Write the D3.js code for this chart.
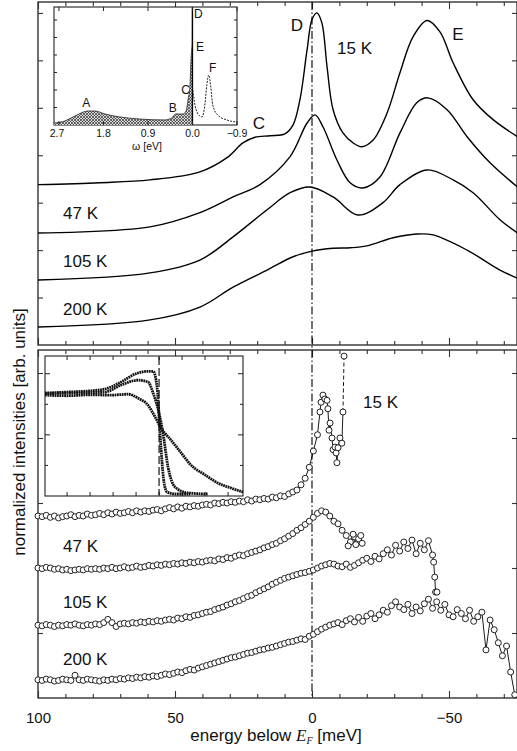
<!DOCTYPE html>
<html><head><meta charset="utf-8">
<script src="https://cdn.jsdelivr.net/npm/d3@7"></script>
<style>
body{margin:0;background:#fff}
text{font-family:"Liberation Sans",Arial,Helvetica,sans-serif;fill:#111}
</style>
</head><body>
<svg id="c" width="517" height="751"></svg>
<script>
// ---------------- DATA ----------------
const xMajorTicks = [100, 50, 0, -50];
const xTickLabels = ["100", "50", "0", "\u221250"];
const xMinorTicks = [90, 80, 70, 60, 40, 30, 20, 10, -10, -20, -30, -40, -60, -70];
const topYTicks = [1, 2, 3, 4, 5, 6, 7];
const botYTicks = [1, 2, 3, 4, 5];
const tempLabels = ["15 K", "47 K", "105 K", "200 K"];

// top panel: calculated spectra [energy meV, intensity]
const top15 = [[100,3.38],[77.4,3.42],[59.1,3.48],[40.9,3.65],[31,3.95],[25.2,4.26],[20.8,4.38],[15.3,4.41],[9.9,4.45],[6.9,4.64],[4.4,5.17],[1.8,6.22],[0,6.86],[-1.8,7.0],[-3.6,6.79],[-5.5,5.86],[-7.7,4.96],[-11.3,4.47],[-15,4.26],[-18.2,4.18],[-22.3,4.32],[-27.4,4.89],[-32.1,5.74],[-36.9,6.50],[-42,6.84],[-46.7,6.60],[-51.5,5.95],[-58.8,5.17],[-66.1,4.75],[-75,4.39]];
const top47 = [[100,2.36],[59.1,2.49],[40.9,2.79],[28.8,3.12],[19,3.38],[8,3.97],[1.8,4.68],[-1.1,4.85],[-4,4.60],[-9.1,3.90],[-13.9,3.42],[-18.6,3.31],[-24.8,3.54],[-32.1,4.47],[-38.3,5.11],[-42.3,5.21],[-49.3,4.96],[-56.6,4.39],[-65,3.84],[-75,3.33]];
const top105 = [[100,1.37],[59.1,1.52],[40.9,1.79],[28.8,2.28],[16.4,2.85],[8,3.21],[0.7,3.33],[-7.7,3.12],[-16.8,2.74],[-25.9,3.0],[-32.1,3.38],[-42,3.69],[-51.5,3.48],[-58.8,3.21],[-68.6,2.64],[-75,2.36]];
const top200 = [[100,0.38],[59.1,0.53],[40.9,0.80],[28.8,1.22],[16.4,1.58],[6.9,1.86],[0,1.98],[-7.7,2.04],[-14,2.05],[-20,2.09],[-29.6,2.26],[-38.3,2.34],[-44.2,2.32],[-56.6,2.0],[-68.6,1.58],[-75,1.41]];

// top inset: spectral function, omega [eV] vs intensity
const insetTicksOmega = [2.7, 1.8, 0.9, 0.0, -0.9];
const insetTickLabels = ["2.7", "1.8", "0.9", "0.0", "\u22120.9"];
const insetOcc = [[2.80,0.11],[2.58,0.23],[2.38,0.51],[2.11,0.80],[1.97,0.80],[1.77,0.63],[1.47,0.46],[1.06,0.34],[0.56,0.29],[0.42,0.40],[0.34,0.63],[0.19,0.63],[0.13,0.80],[0.09,1.43],[0.05,2.29],[0.03,3.71],[0.015,4.34],[0.007,4.6],[0.003,6.74],[0,6.74]];
const insetUnocc = [[0,2.17],[-0.05,1.14],[-0.09,0.74],[-0.19,0.46],[-0.25,1.14],[-0.29,2.29],[-0.33,2.86],[-0.37,2.17],[-0.41,1.14],[-0.51,0.57],[-0.69,0.29],[-0.90,0.17]];
const insetPeakLabels = ["A", "B", "C", "D", "E", "F"];

// bottom panel: measured spectra on a 1.5 meV grid starting at 100 meV
const botStart = 100, botStep = 1.5;
const bot15 = [2.80,2.79,2.81,2.78,2.80,2.77,2.79,2.80,2.82,2.79,2.81,2.80,2.83,2.81,
 2.82,2.84,2.82,2.85,2.83,2.86,2.84,2.85,2.87,2.85,2.88,2.86,2.88,2.87,
 2.89,2.90,2.88,2.91,2.93,2.91,2.94,2.92,2.95,2.94,2.96,2.95,2.97,
 2.98,2.97,3.00,2.99,3.01,3.00,3.02,3.01,3.03,3.02,3.05,3.03,3.06,
 3.05,3.07,3.06,3.09,3.08,3.11,3.10,3.14,
 3.17,3.20,3.28,3.38,3.55,3.80,4.05,4.30];
const bot15Tail = [[-2.9,4.40],[-3.3,4.55],[-4.0,4.66],[-4.7,4.60],[-5.5,4.58],[-5.8,4.45],[-6.2,4.12],[-6.6,4.23],[-7.3,4.0],[-7.7,3.82],[-8.4,3.86],[-8.8,3.77],[-9.1,3.62],[-9.5,3.85],[-10.2,4.0],[-10.9,3.92],[-11.3,4.40]];
const bot15Last = [-11.7, 5.26];
const bot47 = [2.00,1.99,2.01,2.00,1.98,1.99,1.97,1.98,1.96,1.97,1.98,1.97,1.99,1.98,
 1.99,1.98,2.00,1.99,2.01,1.99,2.00,2.02,2.00,2.01,2.03,2.01,2.02,2.04,
 2.03,2.05,2.04,2.06,2.05,2.07,2.06,2.08,2.07,2.09,2.08,2.10,2.09,
 2.11,2.12,2.11,2.14,2.13,2.16,2.15,2.18,2.20,2.19,2.22,2.24,2.26,
 2.28,2.31,2.33,2.36,2.38,2.42,2.45,2.49,
 2.53,2.58,2.62,2.67,2.72,2.78,2.84,2.88,
 2.86,2.80,2.72,2.68,2.58,2.50,2.40,2.48,2.45];
const bot47Tail = [[-13.2,2.34],[-15,2.52],[-16,2.36],[-17.8,2.50],[-18.3,2.38]];
const bot105 = [1.12,1.11,1.13,1.12,1.10,1.12,1.11,1.13,1.12,1.14,1.12,1.11,1.13,1.12,
 1.14,1.13,1.16,1.21,1.16,1.10,1.14,1.15,1.14,1.16,1.15,1.17,1.16,1.18,
 1.17,1.19,1.18,1.20,1.21,1.20,1.23,1.22,1.25,1.24,1.27,1.28,1.30,
 1.32,1.33,1.36,1.38,1.40,1.43,1.45,1.48,1.50,1.53,1.56,1.58,1.62,
 1.65,1.68,1.71,1.75,1.78,1.81,1.84,1.86,
 1.88,1.90,1.92,1.93,1.95,1.97,2.00,2.03,
 2.05,2.07,2.06,2.03,2.02,2.06,2.01,2.04,
 2.08,2.12,2.15,2.10,2.18,2.14,2.22,2.28,
 2.20,2.35,2.26,2.40,2.30,2.43,2.22,2.38,2.28,2.42,2.20];
const bot105Tail = [[-44.4,2.09],[-44.8,1.86],[-45.1,1.63],[-45.6,1.63]];
const bot200 = [0.28,0.27,0.29,0.28,0.26,0.27,0.29,0.28,0.27,0.35,0.28,0.27,0.29,0.28,
 0.27,0.26,0.28,0.27,0.29,0.28,0.30,0.29,0.31,0.30,0.32,0.31,0.33,0.32,
 0.34,0.33,0.35,0.37,0.36,0.38,0.40,0.39,0.42,0.44,0.43,0.46,0.48,
 0.50,0.52,0.54,0.56,0.58,0.60,0.62,0.63,0.65,0.67,0.69,0.70,0.72,
 0.74,0.75,0.77,0.78,0.80,0.82,0.84,0.86,
 0.87,0.89,0.91,0.90,0.95,0.98,1.02,1.06,
 1.09,1.12,1.14,1.16,1.13,1.19,1.22,1.17,
 1.24,1.18,1.26,1.30,1.22,1.28,1.35,1.32,
 1.42,1.48,1.40,1.36,1.44,1.30,1.40,1.34,
 1.45,1.52,1.38,1.48,1.35,1.44,1.28,1.25,
 1.36,1.30,1.22,1.35,1.18,1.25,1.32,0.74,
 1.20,1.05,0.85,0.65,0.80,0.40,0.05];

// bottom inset: three Fermi-edge spectra [energy, intensity]
const insetXTicks = [40, 30, 20, 10, 0, -10, -20, -30];
const insetYTicks = [1, 2, 3, 4];
const edgeA = [[49.6,3.37],[40,3.40],[30,3.44],[23.5,3.50],[16.5,3.73],[10.4,3.99],[4.8,4.08],[2.6,4.08],[1.3,3.79],[0.4,3.14],[0,2.58],[-0.9,1.50],[-2.2,0.42],[-3.5,0.13],[-7,0.065],[-13.5,0.065]];
const edgeB = [[49.6,3.35],[40,3.37],[30,3.38],[23.5,3.40],[16.5,3.63],[9.1,3.79],[4.8,3.73],[2.6,3.37],[0,2.71],[-1.7,2.06],[-3.9,0.95],[-7,0.29],[-12.6,0.1],[-21.3,0.065]];
const edgeC = [[49.6,3.30],[40,3.28],[30,3.31],[20.9,3.30],[13.5,3.33],[9.1,3.20],[4.8,2.97],[1.7,2.58],[-0.9,2.22],[-5.2,1.83],[-9.6,1.41],[-13.9,1.01],[-20,0.69],[-25.7,0.42],[-31.3,0.26],[-36.5,0.13]];

// ---------------- DRAW ----------------
const svg = d3.select("#c");
const L = 38, R = 517, T1 = 2, B1 = 345, T2 = 350, B2 = 698;
const x = d3.scaleLinear().domain([100, -75]).range([L, 517.5]);
const yT = d3.scaleLinear().domain([0, 7.23]).range([B1, T1]);
const yB = d3.scaleLinear().domain([0, 5.354]).range([B2, T2]);
const frameCol = "#333";

const defs = svg.append("defs");
const pat = defs.append("pattern").attr("id","hatch").attr("patternUnits","userSpaceOnUse").attr("width",3).attr("height",3);
pat.append("rect").attr("width",3).attr("height",3).attr("fill","#d8d8d8");
pat.append("path").attr("d","M0,3 L3,0 M0,0 L3,3").attr("stroke","#333").attr("stroke-width",0.7);

function xTicks(y, dir) {
  const g = svg.append("g").attr("transform", `translate(0,${y})`);
  const axMaj = (dir > 0 ? d3.axisBottom(x) : d3.axisTop(x)).tickValues(xMajorTicks).tickSize(7).tickFormat("");
  const axMin = (dir > 0 ? d3.axisBottom(x) : d3.axisTop(x)).tickValues(xMinorTicks).tickSize(4).tickFormat("");
  g.append("g").call(axMaj);
  g.append("g").call(axMin);
  g.selectAll(".domain").remove();
  g.selectAll("line").attr("stroke", frameCol).attr("stroke-width", 1.1);
}
function yTicks(scale, vals) {
  const gl = svg.append("g").attr("transform", `translate(${L},0)`).call(d3.axisRight(scale).tickValues(vals).tickSize(5).tickFormat(""));
  const gr = svg.append("g").attr("transform", `translate(${R},0)`).call(d3.axisLeft(scale).tickValues(vals).tickSize(5).tickFormat(""));
  [gl, gr].forEach(g => { g.select(".domain").remove(); g.selectAll("line").attr("stroke", frameCol).attr("stroke-width", 1.1); });
}

// frames
svg.append("rect").attr("x",L).attr("y",T1).attr("width",R-L).attr("height",B1-T1).attr("fill","none").attr("stroke",frameCol).attr("stroke-width",1.4);
svg.append("rect").attr("x",L).attr("y",T2).attr("width",R-L).attr("height",B2-T2).attr("fill","none").attr("stroke",frameCol).attr("stroke-width",1.4);
xTicks(T1, 1); xTicks(B1, -1); xTicks(T2, 1); xTicks(B2, -1);
yTicks(yT, topYTicks); yTicks(yB, botYTicks);

// bottom tick labels
const gl = svg.append("g").attr("transform", `translate(0,${B2})`)
  .call(d3.axisBottom(x).tickValues(xMajorTicks).tickSize(0).tickPadding(14).tickFormat((d,i) => xTickLabels[i]));
gl.select(".domain").remove();
gl.selectAll("text").attr("font-size", 15).attr("fill", "#111").attr("font-family", '"Liberation Sans",Arial,sans-serif');

// Fermi level dash-dot line
svg.append("line").attr("x1",x(0)).attr("x2",x(0)).attr("y1",T1).attr("y2",B2)
  .attr("stroke","#000").attr("stroke-width",1.1).attr("stroke-dasharray","8,2.5,1.5,2.5");

// top panel curves
const lineT = d3.line().x(d => x(d[0])).y(d => yT(d[1])).curve(d3.curveCatmullRom.alpha(0.5));
[top15, top47, top105, top200].forEach(s => {
  svg.append("path").attr("d", lineT(s)).attr("fill","none").attr("stroke","#000").attr("stroke-width",1.4);
});

// top inset
const xi = d3.scaleLinear().domain([2.8, -0.9]).range([54, 237]);
const yi = d3.scaleLinear().domain([0, 6.74]).range([125, 7]);
svg.append("rect").attr("x",54).attr("y",7).attr("width",183).attr("height",118).attr("fill","#fff").attr("stroke","#222").attr("stroke-width",1.1);
const areaI = d3.area().x(d => xi(d[0])).y0(yi(0)).y1(d => yi(d[1])).curve(d3.curveMonotoneX);
svg.append("path").attr("d", areaI(insetOcc)).attr("fill","url(#hatch)").attr("stroke","none");
svg.append("path").attr("d", d3.line().x(d => xi(d[0])).y(d => yi(d[1])).curve(d3.curveMonotoneX)(insetOcc))
  .attr("fill","none").attr("stroke","#222").attr("stroke-width",0.8);
svg.append("line").attr("x1",xi(0)).attr("x2",xi(0)).attr("y1",yi(0)).attr("y2",yi(6.74)).attr("stroke","#000").attr("stroke-width",1.3);
svg.append("path").attr("d", d3.line().x(d => xi(d[0])).y(d => yi(d[1])).curve(d3.curveMonotoneX)(insetUnocc))
  .attr("fill","none").attr("stroke","#222").attr("stroke-width",1).attr("stroke-dasharray","2,1.2");
const giT = svg.append("g");
insetTicksOmega.forEach(v => {
  giT.append("line").attr("x1",xi(v)).attr("x2",xi(v)).attr("y1",125).attr("y2",121).attr("stroke","#222");
  giT.append("line").attr("x1",xi(v)).attr("x2",xi(v)).attr("y1",7).attr("y2",11).attr("stroke","#222");
});
[1,2,3,4,5,6].forEach(v => {
  giT.append("line").attr("x1",54).attr("x2",57).attr("y1",yi(v)).attr("y2",yi(v)).attr("stroke","#222");
  giT.append("line").attr("x1",237).attr("x2",234).attr("y1",yi(v)).attr("y2",yi(v)).attr("stroke","#222");
});
insetTicksOmega.forEach((v,i) => {
  svg.append("text").attr("x", i === 0 ? xi(v) - 2 : xi(v)).attr("y",137).attr("text-anchor","middle").attr("font-size",10.5).text(insetTickLabels[i]);
});
svg.append("text").attr("x",147).attr("y",150).attr("text-anchor","middle").attr("font-size",10.5).text("\u03c9 [eV]");
const insetLabelPos = [[2.15,1.05],[0.4,0.75],[0.14,1.75],[-0.12,6.1],[-0.15,4.2],[-0.41,3.0]];
insetPeakLabels.forEach((t,i) => {
  svg.append("text").attr("x",xi(insetLabelPos[i][0])).attr("y",yi(insetLabelPos[i][1])).attr("text-anchor","middle").attr("font-size",12).text(t);
});

// top panel labels
svg.append("text").attr("x",297).attr("y",31).attr("text-anchor","middle").attr("font-size",17).text("D");
svg.append("text").attr("x",458).attr("y",40).attr("text-anchor","middle").attr("font-size",17).text("E");
svg.append("text").attr("x",259).attr("y",129).attr("text-anchor","middle").attr("font-size",17).text("C");
svg.append("text").attr("x",337).attr("y",54).attr("font-size",17).text(tempLabels[0]);
[[219,1],[267,2],[315,3]].forEach(([yy,i]) => svg.append("text").attr("x",63).attr("y",yy).attr("font-size",17).text(tempLabels[i]));

// bottom inset
const xb = d3.scaleLinear().domain([49.6, -36.5]).range([45, 243]);
const yb = d3.scaleLinear().domain([0, 4.58]).range([496, 356]);
svg.append("rect").attr("x",45).attr("y",356).attr("width",198).attr("height",140).attr("fill","#fff").attr("stroke","#222").attr("stroke-width",1.1);
const gbi = svg.append("g");
insetXTicks.forEach(v => {
  gbi.append("line").attr("x1",xb(v)).attr("x2",xb(v)).attr("y1",356).attr("y2",360).attr("stroke","#222");
  gbi.append("line").attr("x1",xb(v)).attr("x2",xb(v)).attr("y1",496).attr("y2",492).attr("stroke","#222");
});
insetYTicks.forEach(v => {
  const len = v % 2 === 0 ? 5 : 3;
  gbi.append("line").attr("x1",45).attr("x2",45+len).attr("y1",yb(v)).attr("y2",yb(v)).attr("stroke","#222");
  gbi.append("line").attr("x1",243).attr("x2",243-len).attr("y1",yb(v)).attr("y2",yb(v)).attr("stroke","#222");
});
svg.append("line").attr("x1",xb(0)).attr("x2",xb(0)).attr("y1",357).attr("y2",495).attr("stroke","#000").attr("stroke-width",1.1).attr("stroke-dasharray","8,3");
const lineB = d3.line().x(d => xb(d[0])).y(d => yb(d[1])).curve(d3.curveMonotoneX);
[edgeC, edgeB, edgeA].forEach(s => {
  svg.append("path").attr("d", lineB(s)).attr("fill","none").attr("stroke","#111").attr("stroke-width",2.8).attr("stroke-dasharray","1.8,0.6");
});

// bottom panel data
const toPairs = vals => vals.map((v,i) => [botStart - i*botStep, v]);
const series = [
  toPairs(bot15).filter(d => d[0] > -3).concat(bot15Tail),
  toPairs(bot47).concat(bot47Tail),
  toPairs(bot105).concat(bot105Tail),
  toPairs(bot200)
];
const lineM = d3.line().x(d => x(d[0])).y(d => yB(d[1]));
series.forEach(s => {
  svg.append("path").attr("d", lineM(s)).attr("fill","none").attr("stroke","#000").attr("stroke-width",0.9);
});
const last15 = series[0][series[0].length-1];
svg.append("line").attr("x1",x(last15[0])).attr("y1",yB(last15[1])).attr("x2",x(bot15Last[0])).attr("y2",yB(bot15Last[1]))
  .attr("stroke","#000").attr("stroke-width",0.9).attr("stroke-dasharray","4,2.5");
series.forEach((s,k) => {
  const pts = k === 0 ? s.concat([bot15Last]) : s;
  svg.append("g").selectAll("circle").data(pts).join("circle")
    .attr("cx", d => x(d[0])).attr("cy", d => yB(d[1])).attr("r", 3)
    .attr("fill","#fff").attr("stroke","#222").attr("stroke-width",1);
});

// bottom labels
svg.append("text").attr("x",363).attr("y",408).attr("font-size",17).text(tempLabels[0]);
[[552,1],[608,2],[665,3]].forEach(([yy,i]) => svg.append("text").attr("x",63).attr("y",yy).attr("font-size",17).text(tempLabels[i]));

// axis titles
svg.append("text").attr("transform","translate(25,432) rotate(-90)").attr("text-anchor","middle").attr("font-size",17)
  .text("normalized intensities [arb. units]");
const xt = svg.append("text").attr("x",276).attr("y",741).attr("text-anchor","middle").attr("font-size",17);
xt.append("tspan").text("energy below ");
xt.append("tspan").attr("font-style","italic").attr("font-family",'"Liberation Serif","Times New Roman",serif').text("E");
xt.append("tspan").attr("font-style","italic").attr("font-family",'"Liberation Serif","Times New Roman",serif').attr("font-size",10).attr("dy",3).text("F");
xt.append("tspan").attr("dy",-3).text(" [meV]");
</script>
</body></html>
